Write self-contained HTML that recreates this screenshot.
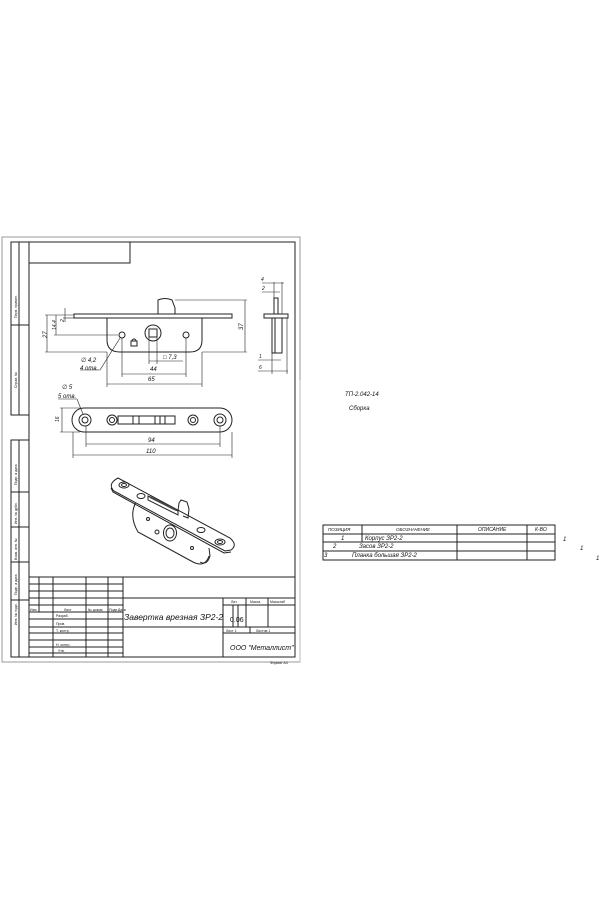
<!DOCTYPE html>
<html><head><meta charset="utf-8"><style>
html,body{margin:0;padding:0;background:#fff;}
svg{display:block;}
text{font-family:"Liberation Sans","DejaVu Sans",sans-serif;fill:#111;}
.it{font-style:italic;}
</style></head><body>
<svg width="600" height="900" viewBox="0 0 600 900" xmlns="http://www.w3.org/2000/svg">
<g fill="none" stroke="#222" stroke-width="1">
<rect x="2" y="237" width="298" height="425" stroke="#999" stroke-width="1"/>
<rect x="29" y="242" width="266" height="415"/>
<rect x="29" y="242" width="101" height="21"/>
<rect x="11" y="242" width="18" height="173"/>
<line x1="19" y1="242" x2="19" y2="415"/><line x1="11" y1="325" x2="29" y2="325"/>
<rect x="11" y="440" width="18" height="217"/>
<line x1="19" y1="440" x2="19" y2="657"/>
<line x1="11" y1="492" x2="29" y2="492"/><line x1="11" y1="527" x2="29" y2="527"/>
<line x1="11" y1="562" x2="29" y2="562"/><line x1="11" y1="600" x2="29" y2="600"/>
<line x1="29" y1="577" x2="295" y2="577"/>
<line x1="29" y1="584" x2="123" y2="584"/><line x1="29" y1="591" x2="123" y2="591"/>
<line x1="29" y1="598" x2="295" y2="598"/><line x1="29" y1="605" x2="123" y2="605"/>
<line x1="29" y1="612" x2="123" y2="612"/><line x1="29" y1="619" x2="123" y2="619"/>
<line x1="29" y1="627" x2="295" y2="627"/><line x1="29" y1="633" x2="123" y2="633"/>
<line x1="29" y1="640" x2="123" y2="640"/><line x1="29" y1="647" x2="123" y2="647"/>
<line x1="29" y1="653" x2="123" y2="653"/>
<line x1="223" y1="605" x2="295" y2="605"/><line x1="223" y1="633" x2="295" y2="633"/>
<line x1="39" y1="577" x2="39" y2="612"/><line x1="53" y1="577" x2="53" y2="657"/>
<line x1="86" y1="577" x2="86" y2="657"/><line x1="108" y1="577" x2="108" y2="657"/>
<line x1="123" y1="577" x2="123" y2="657"/>
<line x1="223" y1="598" x2="223" y2="657"/><line x1="233" y1="605" x2="233" y2="627"/>
<line x1="238" y1="605" x2="238" y2="627"/><line x1="246" y1="598" x2="246" y2="627"/>
<line x1="268" y1="598" x2="268" y2="627"/><line x1="250" y1="627" x2="250" y2="633"/>

<rect x="74" y="314" width="158" height="4"/>
<path d="M107 318 V340 Q107 352 120 352 H190 Q202 352 202 340 V318"/>
<path d="M158 314 V300 Q165 297 172 300 L175 308 V314"/>
<circle cx="153" cy="333" r="8"/><rect x="149" y="329" width="8" height="8"/>
<circle cx="122" cy="335" r="3"/><circle cx="186" cy="335" r="3"/>
<rect x="131" y="341" width="6" height="5"/><path d="M132 341 a2 2 0 0 1 4 0"/>
<g stroke-width="0.6">
<line x1="47" y1="315" x2="47" y2="352"/><line x1="45" y1="315" x2="74" y2="315"/><line x1="45" y1="352" x2="107" y2="352"/>
<line x1="56" y1="315" x2="56" y2="335"/><line x1="54" y1="335" x2="118" y2="335"/>
<line x1="65" y1="308" x2="65" y2="322"/><line x1="63" y1="318" x2="74" y2="318"/>
<line x1="245" y1="300" x2="245" y2="352"/><line x1="175" y1="300" x2="247" y2="300"/><line x1="202" y1="352" x2="247" y2="352"/>
<line x1="122" y1="338" x2="122" y2="377"/><line x1="186" y1="338" x2="186" y2="377"/><line x1="122" y1="374" x2="186" y2="374"/>
<line x1="107" y1="352" x2="107" y2="387"/><line x1="202" y1="352" x2="202" y2="387"/><line x1="107" y1="384" x2="202" y2="384"/>
<line x1="149" y1="337" x2="149" y2="364"/><line x1="157" y1="337" x2="157" y2="364"/><line x1="149" y1="361" x2="183" y2="361"/>
<line x1="120" y1="338" x2="100" y2="370"/><line x1="100" y1="370" x2="80" y2="370"/>
</g>
<rect x="264" y="314" width="24" height="4"/>
<rect x="272" y="318" width="10" height="35"/><line x1="275" y1="318" x2="275" y2="353"/>
<rect x="274" y="298" width="4" height="16"/>
<g stroke-width="0.6">
<line x1="274" y1="282" x2="274" y2="298"/><line x1="282" y1="282" x2="282" y2="314"/>
<line x1="262" y1="283" x2="284" y2="283"/><line x1="262" y1="292" x2="280" y2="292"/>
<line x1="258" y1="360" x2="281" y2="360"/><line x1="258" y1="371" x2="288" y2="371"/>
<line x1="272" y1="353" x2="272" y2="374"/><line x1="287" y1="318" x2="287" y2="374"/>
</g>
<rect x="72" y="408" width="160" height="24" rx="12"/>
<circle cx="85" cy="420" r="6"/><circle cx="85" cy="420" r="3"/>
<circle cx="112" cy="420" r="5"/><circle cx="112" cy="420" r="2.5"/>
<circle cx="193" cy="420" r="5"/><circle cx="193" cy="420" r="2.5"/>
<circle cx="220" cy="420" r="6"/><circle cx="220" cy="420" r="3"/>
<rect x="118" y="416" width="57" height="8"/><rect x="133" y="416" width="6" height="8"/>
<line x1="155" y1="416" x2="155" y2="424"/><line x1="160" y1="416" x2="160" y2="424"/><line x1="165" y1="416" x2="165" y2="424"/>
<g stroke-width="0.6">
<line x1="86" y1="426" x2="86" y2="447"/><line x1="220" y1="426" x2="220" y2="447"/><line x1="86" y1="444" x2="220" y2="444"/>
<line x1="73" y1="432" x2="73" y2="458"/><line x1="232" y1="432" x2="232" y2="458"/><line x1="73" y1="455" x2="232" y2="455"/>
<line x1="62" y1="408" x2="62" y2="432"/><line x1="60" y1="408" x2="80" y2="408"/><line x1="60" y1="432" x2="80" y2="432"/>
<line x1="58" y1="399" x2="77" y2="399"/><line x1="77" y1="399" x2="83" y2="414"/>
</g>
<!-- isometric -->
<path d="M137 500 Q128 515 138 532 L193 562 Q205 568 209 556"/>
<path d="M200 562 Q207 566 210 556 L209 548"/>
<path d="M118 478 L230 538 Q238 545 231 550 L225 551 L114 491 Q107 484 118 478 Z" fill="#fff"/>
<path d="M111 488 L113 492 L224 553 L231 552"/>
<path d="M148 496 L178 511 L178 515 L148 500 Z"/>
<path d="M150 497 L176 510" stroke-width="2" stroke="#444"/>
<path d="M178 511 L179 503 L181 500 L187 502 L189 509 L188 518 L183 516"/>
<ellipse cx="170" cy="533" rx="6.5" ry="8"/><ellipse cx="170" cy="533" rx="4" ry="5"/>
<ellipse cx="124" cy="485" rx="5" ry="3"/><ellipse cx="124" cy="485" rx="2.5" ry="1.5"/>
<ellipse cx="141" cy="496" rx="4" ry="2.5"/>
<ellipse cx="201" cy="530" rx="4" ry="2.5"/>
<ellipse cx="220" cy="542" rx="5" ry="3"/><ellipse cx="220" cy="542" rx="2.5" ry="1.5"/>
<circle cx="157" cy="532" r="2"/><circle cx="148" cy="519" r="1.5"/><circle cx="192" cy="548" r="1.5"/>

<rect x="323" y="525" width="232" height="35"/>
<line x1="323" y1="534" x2="555" y2="534"/><line x1="323" y1="542" x2="555" y2="542"/><line x1="323" y1="551" x2="555" y2="551"/>
<line x1="362" y1="525" x2="362" y2="542"/><line x1="457" y1="525" x2="457" y2="560"/><line x1="527" y1="525" x2="527" y2="560"/>
</g>
<g class="it" font-size="6">
<text x="47" y="338" transform="rotate(-90 47 338)" font-size="6">27</text>
<text x="56" y="330" transform="rotate(-90 56 330)" font-size="5">14,4</text>
<text x="64" y="322" transform="rotate(-90 64 322)" font-size="5">2</text>
<text x="243" y="330" transform="rotate(-90 243 330)">37</text>
<text x="150" y="371">44</text><text x="148" y="381">65</text>
<text x="163" y="359">□ 7,3</text>
<text x="81" y="362">∅ 4,2</text><text x="80" y="370">4 отв.</text>
<text x="261" y="281" font-size="5">4</text><text x="262" y="290" font-size="5">2</text>
<text x="259" y="358" font-size="5">1</text><text x="259" y="369" font-size="5">6</text>
<text x="62" y="389">∅ 5</text><text x="58" y="398">5 отв.</text>
<text x="59" y="422" transform="rotate(-90 59 422)" font-size="5">16</text>
<text x="148" y="442">94</text><text x="146" y="453">110</text>
<text x="124" y="620" font-size="8.5">Завертка врезная ЗР2-2</text>
<text x="230" y="622" font-size="7" font-style="normal">0.06</text>
<text x="230" y="650" font-size="7">ООО "Металлист"</text>
<text x="345" y="396" font-size="6">ТП-2.042-14</text>
<text x="349" y="410" font-size="6">Сборка</text>
<text x="328" y="531" font-size="4.5">ПОЗИЦИЯ</text>
<text x="396" y="531" font-size="4.5">ОБОЗНАЧЕНИЕ</text>
<text x="478" y="531" font-size="5">ОПИСАНИЕ</text>
<text x="535" y="531" font-size="5">К-ВО</text>
<text x="341" y="540" font-size="6">1</text><text x="365" y="540" font-size="6">Корпус ЗР2-2</text>
<text x="333" y="548" font-size="6">2</text><text x="359" y="548" font-size="6">Засов ЗР2-2</text>
<text x="324" y="557" font-size="6">3</text><text x="352" y="557" font-size="6">Планка большая ЗР2-2</text>
<text x="563" y="541" font-size="6">1</text><text x="580" y="550" font-size="6">1</text><text x="596" y="560" font-size="6">1</text>
</g>
<g font-size="3.5">
<text x="30" y="611">Изм</text><text x="64" y="611">Лист</text><text x="88" y="611">№ докум.</text><text x="109" y="611">Подп.</text><text x="118" y="611">Дата</text>
<text x="56" y="617">Разраб.</text><text x="56" y="625">Пров.</text><text x="56" y="632">Т. контр.</text>
<text x="56" y="646">Н. контр.</text><text x="58" y="652">Утв.</text>
<text x="231" y="603">Лит.</text><text x="250" y="603">Масса</text><text x="270" y="603">Масштаб</text>
<text x="226" y="632">Лист 1</text><text x="256" y="632">Листов 1</text>
<text x="270" y="664">Формат А4</text>
<text x="17" y="318" transform="rotate(-90 17 318)">Перв. примен.</text>
<text x="17" y="388" transform="rotate(-90 17 388)">Справ. №</text>
<text x="17" y="485" transform="rotate(-90 17 485)">Подп. и дата</text>
<text x="17" y="524" transform="rotate(-90 17 524)">Инв. № дубл.</text>
<text x="17" y="560" transform="rotate(-90 17 560)">Взам. инв. №</text>
<text x="17" y="595" transform="rotate(-90 17 595)">Подп. и дата</text>
<text x="17" y="625" transform="rotate(-90 17 625)">Инв. № подл.</text>
</g>
<line x1="300" y1="380" x2="300" y2="662" stroke="#bbb" stroke-width="1"/>
</svg>
</body></html>
